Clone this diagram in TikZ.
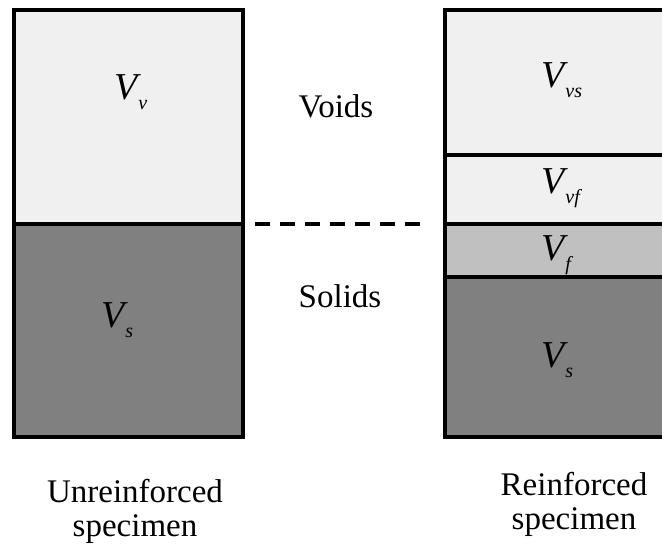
\documentclass[tikz,border=0pt]{standalone}
\usepackage{fontspec}
\setmainfont{Liberation Serif}
\definecolor{voidc}{HTML}{F0F0F0}
\definecolor{solidc}{HTML}{808080}
\definecolor{fibc}{HTML}{C0C0C0}
\newcommand{\Vsub}[1]{{\fontsize{38}{40}\selectfont\itshape V}\kern1pt\raisebox{-10pt}{\fontsize{20}{22}\selectfont\itshape #1}}
\begin{document}
\begin{tikzpicture}[x=1pt,y=-1pt,
  border/.style={draw=black,line width=4pt},
  vlab/.style={anchor=base west,inner sep=0pt},
  txt/.style={font=\fontsize{33}{34}\selectfont, align=center, anchor=base, inner sep=0pt}]
\useasboundingbox (0,0) rectangle (662,546);
\clip (0,0) rectangle (662,546);
% left specimen
\fill[voidc] (14,10) rectangle (243,224);
\fill[solidc] (14,224) rectangle (243,437);
\draw[border] (14,224) -- (243,224);
\draw[border] (14,10) rectangle (243,437);
% right specimen
\fill[voidc] (445,10) rectangle (672,224);
\fill[fibc] (445,224) rectangle (672,277);
\fill[solidc] (445,277) rectangle (672,437);
\draw[border] (445,155) -- (672,155);
\draw[border] (445,224) -- (672,224);
\draw[border] (445,277) -- (672,277);
\draw[border] (445,10) rectangle (672,437);
% dashed line
\coordinate (d1) at (255,224);
\coordinate (d2) at (420,224);
\draw[line width=3.5pt, dash pattern=on 15pt off 10pt] (d1) -- (d2);
% labels
\node[vlab] (vv) at (114,99) {\Vsub{v}};
\node[vlab] (vs1) at (101,327) {\Vsub{s}};
\node[vlab] (vvs) at (541,87) {\Vsub{vs}};
\node[vlab] (vvf) at (541,193) {\Vsub{vf}};
\node[vlab] (vf) at (541,260) {\Vsub{f}};
\node[vlab] (vs2) at (541,367) {\Vsub{s}};
\node[txt] (voids) at (336,117) {Voids};
\node[txt] (solids) at (340,307) {Solids};
\node[txt] (unr) at (135,536) {Unreinforced\\specimen};
\node[txt] (rei) at (574,529) {Reinforced\\specimen};
\end{tikzpicture}
\end{document}
